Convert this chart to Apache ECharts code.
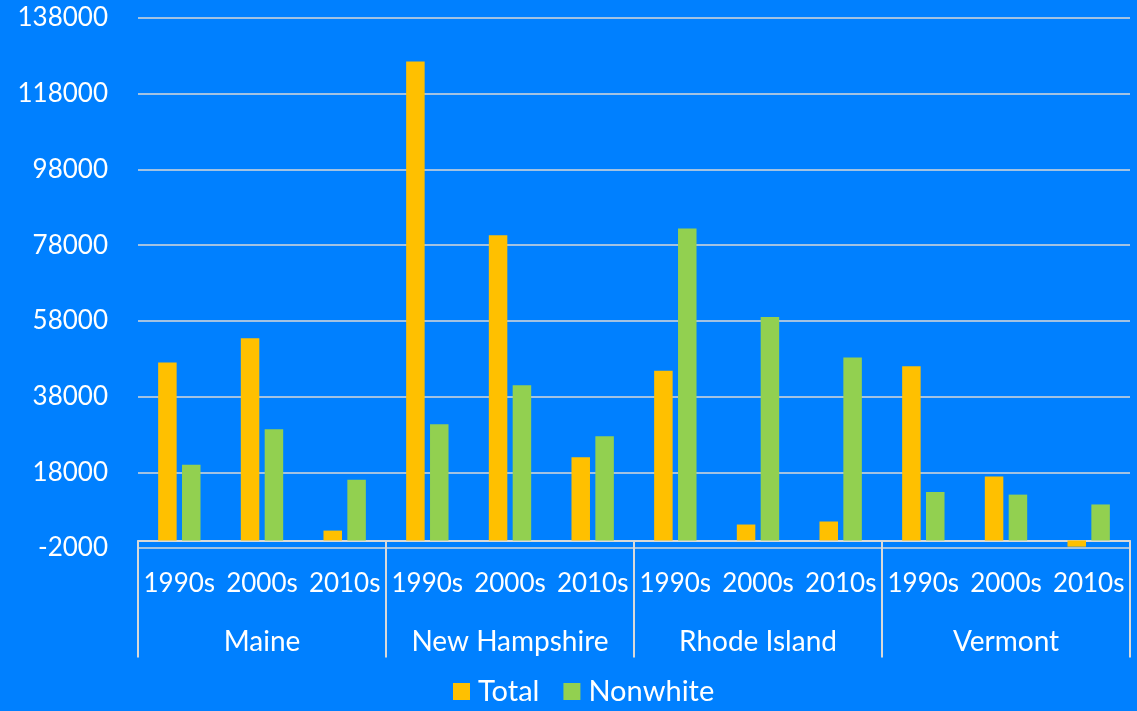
<!DOCTYPE html>
<html>
<head>
<meta charset="utf-8">
<title>Population change by decade</title>
<script src="https://cdn.jsdelivr.net/npm/echarts@6/dist/echarts.min.js"></script>
<style>
  html, body { margin: 0; padding: 0; background: #0080FF; }
  #chart { width: 1137px; height: 711px; }
</style>
</head>
<body>
<div id="chart"></div>
<script>
// Decades shown within each state, and the states they are grouped under
const decades = ['1990s', '2000s', '2010s'];
const states = ['Maine', 'New Hampshire', 'Rhode Island', 'Vermont'];

// Population change per state and decade (Maine, New Hampshire, Rhode Island, Vermont)
const totalChange = [
  47000, 53400, 2600,
  126500, 80600, 22000,
  44800, 4200, 5000,
  46000, 16900, -1650
];
const nonwhiteChange = [
  20000, 29400, 16000,
  30700, 41000, 27500,
  82400, 59000, 48300,
  12800, 12100, 9500
];

// Value axis ticks
const yMin = -2000;
const yMax = 138000;
const yStep = 20000;

// One category per state/decade pair on the inner axis
const innerCategories = [];
states.forEach(function () {
  decades.forEach(function (d) { innerCategories.push(d); });
});

const fontFamily = 'Lato, "Open Sans", sans-serif';
const textColor = '#FFFFFF';
const lineColor = '#D9D9D9';

const chart = echarts.init(document.getElementById('chart'));
chart.setOption({
  backgroundColor: '#0080FF',
  animation: false,
  textStyle: { fontFamily: fontFamily },
  grid: { left: 138, right: 7, top: 18, bottom: 163, containLabel: false },
  legend: {
    data: ['Total', 'Nonwhite'],
    bottom: 0,
    left: 448,
    itemWidth: 17,
    itemHeight: 17,
    itemGap: 24,
    icon: 'rect',
    textStyle: { color: textColor, fontSize: 29, fontFamily: fontFamily, padding: [0, 0, 0, 3] }
  },
  xAxis: [
    {
      type: 'category',
      data: innerCategories,
      axisLine: { show: true, onZero: true, onZeroAxisIndex: 0, lineStyle: { color: lineColor, width: 2 } },
      axisTick: { show: false },
      axisLabel: { color: textColor, fontSize: 26, margin: 23, interval: 0, fontFamily: fontFamily }
    },
    {
      type: 'category',
      data: states,
      position: 'bottom',
      axisLine: { show: false, onZero: true, onZeroAxisIndex: 0 },
      axisTick: { show: true, length: 117, lineStyle: { color: lineColor, width: 2 } },
      axisLabel: { color: textColor, fontSize: 28, margin: 80, interval: 0, fontFamily: fontFamily }
    }
  ],
  yAxis: {
    type: 'value',
    min: yMin,
    max: yMax,
    interval: yStep,
    axisLine: { show: false },
    axisTick: { show: false },
    splitLine: { show: true, lineStyle: { color: lineColor, width: 1.5 } },
    axisLabel: {
      color: textColor, fontSize: 26, margin: 30, fontFamily: fontFamily,
      formatter: function (v) { return String(v); }
    }
  },
  series: [
    {
      name: 'Total',
      type: 'bar',
      xAxisIndex: 0,
      data: totalChange,
      barWidth: 18.5,
      barGap: '29%',
      itemStyle: { color: '#FFC000' }
    },
    {
      name: 'Nonwhite',
      type: 'bar',
      xAxisIndex: 0,
      data: nonwhiteChange,
      barWidth: 18.5,
      barGap: '29%',
      itemStyle: { color: '#92D050' }
    }
  ]
});
</script>
</body>
</html>
